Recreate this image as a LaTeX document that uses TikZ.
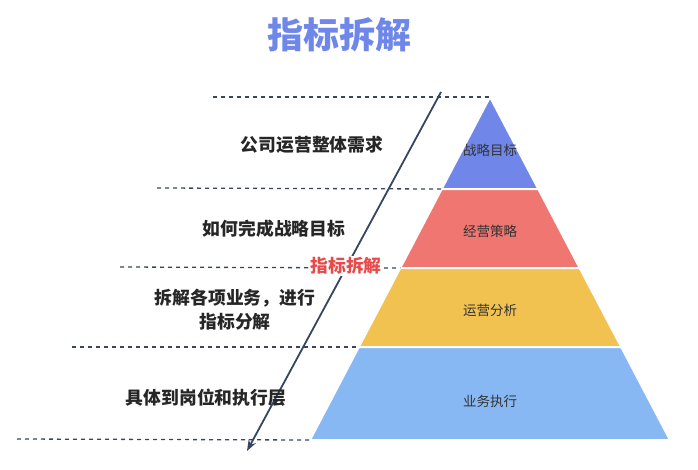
\documentclass[tikz,border=0pt]{standalone}
\usepackage{fontspec}
\setmainfont{Noto Sans CJK SC}
\usepackage{tikz}
\usetikzlibrary{positioning}
\usetikzlibrary{arrows.meta}

\definecolor{titleblue}{HTML}{6F87E8}
\definecolor{layerone}{HTML}{7087E9}
\definecolor{layertwo}{HTML}{F07672}
\definecolor{layerthree}{HTML}{F1C250}
\definecolor{layerfour}{HTML}{88B8F3}
\definecolor{slate}{HTML}{36465E}
\definecolor{splitred}{HTML}{E84A4A}

\tikzset{
	layer/.style={draw=white, line width=2pt},
	guide/.style={slate, line width=1.3pt, dash pattern=on 4pt off 4pt},
	sidetext/.style={font=\bfseries\fontsize{17.8}{24}\selectfont, text=black!85, align=center},
	intext/.style={font=\fontsize{13.5}{16}\selectfont, text=black!80}
}

\begin{document}
\begin{tikzpicture}[x=1pt,y=-1pt]
	
	\useasboundingbox (0,0) rectangle (698,469);
	
	% Title
	\node[font=\bfseries\fontsize{36}{40}\selectfont, text=titleblue] (title) at (339,35) {指标拆解};
	
	% Pyramid corners: apex, then the left/right points of each cut
	\coordinate (P0) at (490,97);
	\coordinate (L1) at (441.7,189); \coordinate (R1) at (538.3,189);
	\coordinate (L2) at (400.3,268); \coordinate (R2) at (579.7,268);
	\coordinate (L3) at (358.8,347); \coordinate (R3) at (621.2,347);
	\coordinate (L4) at (310,440);   \coordinate (R4) at (670,440);
	
	%%%%%%%%%%%%%%%%%%%%%%%%%%%%%%%%%%%%%%%%%%%%%%%%%%%%%%%%%%%%%%
	% Layers
	\fill[layer, fill=layerone]   (P0) -- (R1) -- (L1) -- cycle;
	\fill[layer, fill=layertwo]   (L1) -- (R1) -- (R2) -- (L2) -- cycle;
	\fill[layer, fill=layerthree] (L2) -- (R2) -- (R3) -- (L3) -- cycle;
	\fill[layer, fill=layerfour]  (L3) -- (R3) -- (R4) -- (L4) -- cycle;
	\draw[white, line width=2pt] (L1) -- (R1) (L2) -- (R2) (L3) -- (R3);
	
	\node[intext] (strategy) at (490,150) {战略目标};
	\node[intext] (tactics)  at (490,231) {经营策略};
	\node[intext] (analysis) at (490,310) {运营分析};
	\node[intext] (business) at (490,401) {业务执行};
	
	%%%%%%%%%%%%%%%%%%%%%%%%%%%%%%%%%%%%%%%%%%%%%%%%%%%%%%%%%%%%%%
	% Dashed guides, from the left edge to the pyramid
	\coordinate (G0) at (213,97);
	\coordinate (G1) at (157,188);
	\coordinate (G2) at (120,267);
	\coordinate (G3) at (72,347);
	\coordinate (G4) at (17,439);
	
	\draw[guide] (G0) -- (P0);
	\draw[guide] (G1) -- (L1);
	\draw[guide] (G2) -- (L2);
	\draw[guide] (G3) -- (L3);
	\draw[guide] (G4) -- (L4);
	
	% Arrow going down through the levels
	\coordinate (A1) at (441,92);
	\coordinate (A2) at (247,451);
	\draw[slate, line width=1.8pt, -{Stealth[length=11pt, width=8pt]}] (A1) -- (A2);
	
	\node[font=\bfseries\fontsize{17.8}{20}\selectfont, text=splitred, fill=white, inner sep=1pt] (split) at (346,266) {指标拆解};
	
	%%%%%%%%%%%%%%%%%%%%%%%%%%%%%%%%%%%%%%%%%%%%%%%%%%%%%%%%%%%%%%
	% Level descriptions
	\node[sidetext] (need)    at (312,145) {公司运营整体需求};
	\node[sidetext] (how)     at (274,229) {如何完成战略目标};
	\node[sidetext] (breakup) at (235,310) {拆解各项业务，进行\\指标分解};
	\node[sidetext] (post)    at (206,398) {具体到岗位和执行层};
	
\end{tikzpicture}
\end{document}
